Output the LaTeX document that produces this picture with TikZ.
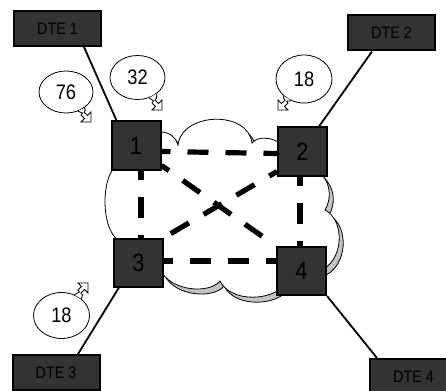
\documentclass[tikz,border=0pt]{standalone}
\usepackage{fontspec}
\setmainfont{Liberation Sans}[FakeStretch=0.87]
\usetikzlibrary{shapes.geometric,backgrounds}
\definecolor{boxgray}{RGB}{51,51,51}
\definecolor{shadowgray}{RGB}{196,196,196}
\begin{document}
\begin{tikzpicture}[x=1pt,y=-1pt,
  switchbox/.style={draw=black,line width=2pt,fill=boxgray,minimum width=49pt,minimum height=48pt,
    inner sep=0pt,font=\fontsize{25}{27}\selectfont,text=black},
  dtebox/.style={draw=black,line width=2pt,fill=boxgray,minimum width=87pt,minimum height=35pt,
    inner sep=0pt,font=\fontsize{16.5}{18}\selectfont,text=black},
  trunk/.style={line width=5.2pt,dash pattern=on 21pt off 17pt,dash phase=12pt},
  access/.style={line width=1.8pt},
  bubble/.style={ellipse,draw=black,line width=0.8pt,fill=white,inner sep=0pt,
    font=\fontsize{21}{23}\selectfont},
  tail/.style={draw=black,line width=0.8pt,fill=white,line join=miter},
  netcloud/.pic={
    \path[pic actions]
      (140,135) -- (158,131)
      -- (161,132) .. controls (170,132) and (176,138) .. (178,145)
      .. controls (182,112) and (248,110) .. (252,143)
      .. controls (258,136) and (272,136) .. (284,146)
      -- (316,168) -- (323,176)
      .. controls (331,186) and (331,200) .. (325,210)
      .. controls (345,220) and (345,262) .. (318,272)
      -- (285,284) -- (280,289)
      .. controls (265,301) and (230,301) .. (220,281)
      .. controls (210,294) and (170,292) .. (160,269)
      -- (128,250) -- (118,240)
      .. controls (101,228) and (101,178) .. (116,166)
      -- (130,150) -- cycle;
  }
]
\useasboundingbox (0,0) rectangle (446,390);

% switching nodes
\node[switchbox] (n1) at (136,145.5) {1};
\node[switchbox] (n2) at (302.5,151.5) {2};
\node[switchbox] (n3) at (138.5,262.5) {3};
\node[switchbox] (n4) at (301.5,271) {4};

% terminal equipment
\node[dtebox] (dte1) at (57.5,28.5) {DTE 1};
\node[dtebox] (dte2) at (391.5,33) {DTE 2};
\node[dtebox] (dte3) at (56,372.5) {DTE 3};
\node[dtebox] (dte4) at (413.5,376.5) {DTE 4};

\begin{scope}[on background layer]
  % packet network cloud with its drop shadow
  \pic[draw=black,line width=0.8pt,fill=shadowgray] at (4,5) {netcloud};
  \pic[draw=black,line width=0.8pt,fill=white] at (0,0) {netcloud};
  % trunk links between switching nodes
  \draw[trunk] ([yshift=-6pt]n1.east) -- ([yshift=-2pt]n2.west);
  \draw[trunk] ([xshift=5pt]n1.south) -- ([xshift=2.5pt]n3.north);
  \draw[trunk] ([xshift=-2.5pt]n2.south) -- ([xshift=-1.5pt]n4.north);
  \draw[trunk] ([yshift=1.5pt]n3.east) -- ([yshift=10pt]n4.west);
  \draw[trunk] ([yshift=5pt]n1.south east) -- (n4.north west);
  \draw[trunk] ([yshift=5pt]n2.south west) -- (n3.north east);
  % access lines
  \draw[access] ([xshift=26.5pt]dte1.south) -- ([xshift=6pt]n1.north west);
  \draw[access] ([xshift=-19.5pt]dte2.south) -- ([xshift=-9pt]n2.north east);
  \draw[access] ([xshift=6pt]n3.south west) -- ([xshift=22pt]dte3.north);
  \draw[access] (n4.south east) -- ([xshift=-36.5pt]dte4.north);
\end{scope}

% callout bubbles
\node[bubble,minimum width=54pt,minimum height=42pt] (c76) at (66,92) {76};
\node[bubble,minimum width=55pt,minimum height=44pt] (c32) at (137.5,77.5) {32};
\node[bubble,minimum width=56pt,minimum height=48pt] (c18a) at (304,79) {18};
\node[bubble,minimum width=56pt,minimum height=46pt] (c18b) at (61.5,315.5) {18};

% callout pointers
\begin{scope}[shift={(91,122)}]
  \filldraw[tail] (c76.-58) -- (-8.5,-9) -- (-10,-7) -- (-6.5,-3.5) -- (-10,0) -- (0,0)
    -- (0,-10) -- (-3.5,-6.5) -- (-7,-10) -- (-5.5,-12) -- (c76.-42);
\end{scope}
\begin{scope}[shift={(162,110)}]
  \filldraw[tail] (c32.-60) -- (-8.5,-9) -- (-10,-7) -- (-6.5,-3.5) -- (-10,0) -- (0,0)
    -- (0,-10) -- (-3.5,-6.5) -- (-7,-10) -- (-5.5,-12) -- (c32.-40);
\end{scope}
\begin{scope}[shift={(278,110)},xscale=-1]
  \filldraw[tail] (c18a.-120) -- (-8.5,-9) -- (-10,-7) -- (-6.5,-3.5) -- (-10,0) -- (0,0)
    -- (0,-10) -- (-3.5,-6.5) -- (-7,-10) -- (-5.5,-12) -- (c18a.-140);
\end{scope}
\begin{scope}[shift={(88,283)},yscale=-1]
  \filldraw[tail] (c18b.58) -- (-8.5,-9) -- (-10,-7) -- (-6.5,-3.5) -- (-10,0) -- (0,0)
    -- (0,-10) -- (-3.5,-6.5) -- (-7,-10) -- (-5.5,-12) -- (c18b.40);
\end{scope}
\end{tikzpicture}
\end{document}
